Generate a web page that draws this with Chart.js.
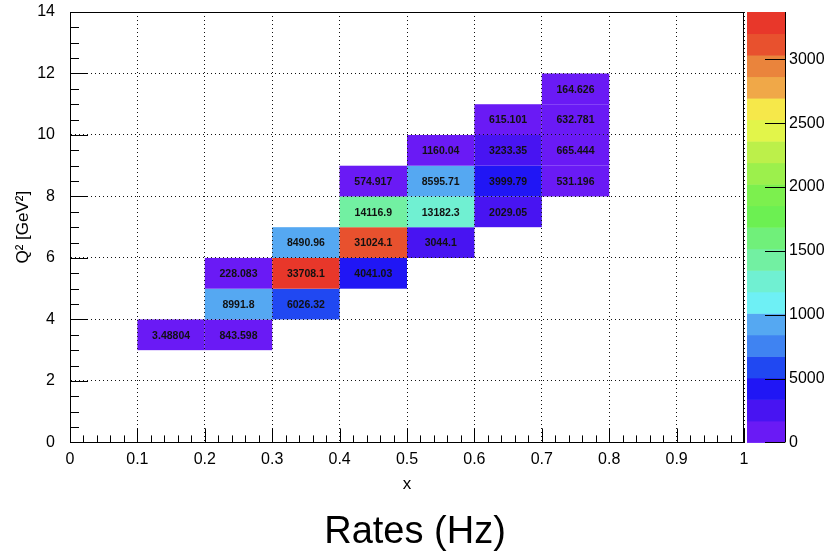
<!DOCTYPE html>
<html><head><meta charset="utf-8">
<script src="https://cdn.jsdelivr.net/npm/chart.js@4.4.1/dist/chart.umd.min.js"></script>
<style>html,body{margin:0;padding:0;background:#fff;}#wrap{width:830px;height:555px;}</style>
</head><body><div id="wrap"><canvas id="c" width="830" height="555"></canvas></div>
<script>
// ---- data ----
const xLow  = [0.1,0.2, 0.2,0.3, 0.2,0.3,0.4, 0.3,0.4,0.5, 0.4,0.5,0.6, 0.4,0.5,0.6,0.7, 0.5,0.6,0.7, 0.6,0.7, 0.7];
const yLow  = [3,3, 4,4, 5,5,5, 6,6,6, 7,7,7, 8,8,8,8, 9,9,9, 10,10, 11];
const rates = [3.48804,843.598, 8991.8,6026.32, 228.083,33708.1,4041.03, 8490.96,31024.1,3044.1,
               14116.9,13182.3,2029.05, 574.917,8595.71,3999.79,531.196, 1160.04,3233.35,665.444,
               615.101,632.781, 164.626];
const binW = 0.1, binH = 1;
const xTickValues = [0,0.1,0.2,0.3,0.4,0.5,0.6,0.7,0.8,0.9,1];
const xTickLabels = ['0','0.1','0.2','0.3','0.4','0.5','0.6','0.7','0.8','0.9','1'];
const yTickValues = [0,2,4,6,8,10,12,14];
const yTickLabels = ['0','2','4','6','8','10','12','14'];
const zTickValues = [0,5000,10000,15000,20000,25000,30000];
const zTickLabels = ['0','5000','1000','1500','2000','2500','3000'];
const zMax = 33708.1;
const nContours = 20;
const palette = ['#6a1af5','#4814f2','#2016f5','#2048f2','#3f83f2','#55a8f2','#6ef0f5','#70f0d2',
                 '#72f0a2','#70f07a','#6cf052','#7cf04e','#9cf04c','#bcf04a','#e2f54a','#f6e84a',
                 '#f0a848','#ea843c','#e8512e','#e8372a'];
const titleText = 'Rates (Hz)';
const xTitle = 'x';
const yTitle = 'Q\u00B2 [GeV\u00B2]';

const FAMILY = '"Liberation Sans", Arial, Helvetica, sans-serif';
Chart.defaults.font.family = FAMILY;
Chart.defaults.color = '#000';

function colorFor(v){
  const k = Math.min(nContours-1, Math.max(0, Math.floor(v / zMax * nContours)));
  return palette[k];
}
function fmt(v){ return String(parseFloat(v.toPrecision(6))); }

const cellsPlugin = {
  id: 'cells',
  beforeDraw(chart){
    const ctx = chart.ctx, xs = chart.scales.x, ys = chart.scales.y;
    const pts = chart.data.datasets[0].data;
    ctx.save();
    pts.forEach(p => {
      const x0 = xs.getPixelForValue(p.x - binW/2), x1 = xs.getPixelForValue(p.x + binW/2);
      const y0 = ys.getPixelForValue(p.y + binH/2), y1 = ys.getPixelForValue(p.y - binH/2);
      ctx.fillStyle = colorFor(p.v);
      ctx.fillRect(x0, y0, x1 - x0, y1 - y0);
    });
    ctx.restore();
  },
  afterDraw(chart){
    const ctx = chart.ctx, xs = chart.scales.x, ys = chart.scales.y, zs = chart.scales.z;
    const a = chart.chartArea;
    const pts = chart.data.datasets[0].data;
    ctx.save();
    // cell labels
    ctx.fillStyle = '#111';
    ctx.font = 'bold 10.5px ' + FAMILY;
    ctx.textAlign = 'center'; ctx.textBaseline = 'middle';
    pts.forEach(p => {
      ctx.fillText(fmt(p.v), xs.getPixelForValue(p.x), ys.getPixelForValue(p.y) + 1);
    });
    // frame
    ctx.strokeStyle = '#000'; ctx.lineWidth = 1;
    ctx.strokeRect(Math.round(a.left)+0.5, Math.round(a.top)+0.5, Math.round(a.right-a.left)-1, Math.round(a.bottom-a.top));
    // x ticks (inward)
    ctx.beginPath();
    for (let i = 0; i <= 50; i++) {
      const v = i * 0.02;
      const px = Math.round(xs.getPixelForValue(v)) + 0.5;
      const len = (i % 5 === 0) ? 14 : 7;
      ctx.moveTo(px, a.bottom); ctx.lineTo(px, a.bottom - len);
    }
    // y ticks (inward)
    for (let i = 0; i <= 28; i++) {
      const v = i * 0.5;
      const py = Math.round(ys.getPixelForValue(v)) + 0.5;
      const len = (i % 4 === 0) ? 18 : 9;
      ctx.moveTo(a.left, py); ctx.lineTo(a.left + len, py);
    }
    ctx.stroke();
    // colour bar
    const bx0 = a.right + 3, bx1 = a.right + 41;
    for (let k = 0; k < nContours; k++) {
      const yb = zs.getPixelForValue(k * zMax / nContours);
      const yt = zs.getPixelForValue((k + 1) * zMax / nContours);
      ctx.fillStyle = palette[k];
      ctx.fillRect(bx0, yt, bx1 - bx0, yb - yt + 0.5);
    }
    ctx.strokeStyle = '#000';
    ctx.beginPath();
    ctx.moveTo(bx1 + 0.5, zs.top); ctx.lineTo(bx1 + 0.5, zs.bottom);
    zTickValues.forEach(v => {
      const py = Math.round(zs.getPixelForValue(v)) + 0.5;
      ctx.moveTo(bx1 - 20, py); ctx.lineTo(bx1, py);
    });
    ctx.stroke();
    ctx.restore();
  }
};

new Chart(document.getElementById('c'), {
  type: 'scatter',
  data: { datasets: [{
    data: rates.map((v, i) => ({ x: xLow[i] + binW/2, y: yLow[i] + binH/2, v: v })),
    pointRadius: 0, pointHoverRadius: 0, showLine: false
  }]},
  options: {
    responsive: false, animation: false, events: [],
    layout: { padding: { top: 12, left: 0, right: 0, bottom: 0 } },
    plugins: {
      legend: { display: false }, tooltip: { enabled: false },
      title: { display: true, text: titleText, position: 'bottom', color: '#000',
               font: { family: FAMILY, size: 38, weight: 'normal', lineHeight: 1.2 },
               padding: { top: 14, bottom: 0 } }
    },
    scales: {
      x: {
        type: 'linear', position: 'bottom', min: 0, max: 1,
        afterBuildTicks: s => { s.ticks = xTickValues.map(v => ({ value: v })); },
        afterFit: s => { s.height = 53; },
        ticks: { callback: (v, i) => xTickLabels[i], font: { size: 16 }, color: '#000', padding: 8, maxRotation: 0, autoSkip: false },
        grid: { color: '#111', lineWidth: 1, drawTicks: false },
        border: { display: true, color: '#000', width: 1, dash: [1, 3] },
        title: { display: true, text: xTitle, font: { size: 17 }, color: '#000', padding: { top: 0, bottom: 1 } }
      },
      y: {
        type: 'linear', position: 'left', min: 0, max: 14,
        afterBuildTicks: s => { s.ticks = yTickValues.map(v => ({ value: v })); },
        afterFit: s => { s.width = 70; },
        ticks: { callback: (v, i) => yTickLabels[i], font: { size: 16 }, color: '#000', padding: 2, autoSkip: false },
        grid: { color: '#111', lineWidth: 1, drawTicks: true, tickLength: 13, tickColor: 'rgba(0,0,0,0)' },
        border: { display: true, color: '#000', width: 1, dash: [1, 3] },
        title: { display: true, text: yTitle, font: { size: 17 }, color: '#000', padding: { top: 13, bottom: 0 } }
      },
      z: {
        type: 'linear', position: 'right', min: 0, max: zMax,
        afterBuildTicks: s => { s.ticks = zTickValues.map(v => ({ value: v })); },
        afterFit: s => { s.width = 86; },
        ticks: { callback: (v, i) => zTickLabels[i], font: { size: 16 }, color: '#000', padding: 2, autoSkip: false },
        grid: { display: false, drawTicks: true, tickLength: 43, drawOnChartArea: false },
        border: { display: false }
      }
    }
  },
  plugins: [cellsPlugin]
});
</script>
</body></html>
